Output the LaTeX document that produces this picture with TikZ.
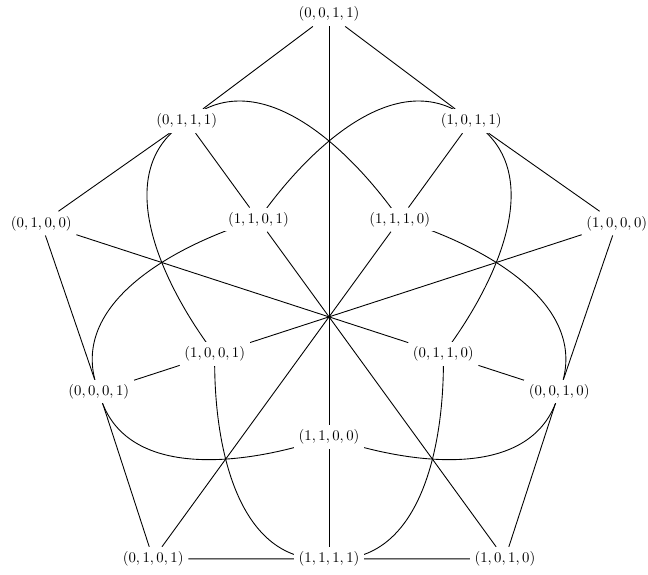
\documentclass[tikz,border=0pt]{standalone}
\usetikzlibrary{backgrounds}
\tikzset{
    vertex/.style={
        fill=white,
        inner sep=3pt,
        font=\normalsize
    },
    link/.style={
        draw=black,
        line width=0.6pt
    },
    curvelink/.style={
        draw=black,
        line width=0.6pt
    }
}
\begin{document}
\begin{tikzpicture}
    \useasboundingbox (-7.83,-6.14) rectangle (7.59,7.54);
    % outer ring
    \node[vertex] (n0011) at (90:7.2) {$(0,0,1,1)$};
    \node[vertex] (n0100) at (162:7.2) {$(0,1,0,0)$};
    \node[vertex] (n0101) at (234:7.12) {$(0,1,0,1)$};
    \node[vertex] (n1010) at (306:7.12) {$(1,0,1,0)$};
    \node[vertex] (n1000) at (18:7.2) {$(1,0,0,0)$};
    % middle ring
    \node[vertex] (n0111) at (126:5.76) {$(0,1,1,1)$};
    \node[vertex] (n0001) at (198:5.76) {$(0,0,0,1)$};
    \node[vertex] (n1111) at (270:5.76) {$(1,1,1,1)$};
    \node[vertex] (n0010) at (342:5.76) {$(0,0,1,0)$};
    \node[vertex] (n1011) at (54:5.76) {$(1,0,1,1)$};
    % inner ring
    \node[vertex] (n1101) at (126:2.86) {$(1,1,0,1)$};
    \node[vertex] (n1001) at (198:2.86) {$(1,0,0,1)$};
    \node[vertex] (n1100) at (270:2.86) {$(1,1,0,0)$};
    \node[vertex] (n0110) at (342:2.86) {$(0,1,1,0)$};
    \node[vertex] (n1110) at (54:2.86) {$(1,1,1,0)$};

    \begin{scope}[on background layer]
    % outer to middle
    \draw[link] (n0011) -- (n0111);
    \draw[link] (n0011) -- (n1011);
    \draw[link] (n0100) -- (n0111);
    \draw[link] (n0100) -- (n0001);
    \draw[link] (n0101) -- (n0001);
    \draw[link] (n0101) -- (n1111);
    \draw[link] (n1010) -- (n1111);
    \draw[link] (n1010) -- (n0010);
    \draw[link] (n1000) -- (n0010);
    \draw[link] (n1000) -- (n1011);

    % middle to inner
    \draw[link] (n0111) -- (n1101);
    \draw[link] (n0001) -- (n1001);
    \draw[link] (n1111) -- (n1100);
    \draw[link] (n0010) -- (n0110);
    \draw[link] (n1011) -- (n1110);

    % through the centre
    \draw[link] (n0011) -- (n1100);
    \draw[link] (n0100) -- (n0110);
    \draw[link] (n0101) -- (n1110);
    \draw[link] (n1010) -- (n1101);
    \draw[link] (n1000) -- (n1001);

    % curved links, centre to centre under the labels
    \draw[curvelink] (n0111.center) to[out=40, in=125] (n1110.center);
    \draw[curvelink] (n0001.center) to[out=112, in=197] (n1101.center);
    \draw[curvelink] (n1111.center) to[out=184, in=269] (n1001.center);
    \draw[curvelink] (n0010.center) to[out=256, in=341] (n1100.center);
    \draw[curvelink] (n1011.center) to[out=328, in=53] (n0110.center);
    \draw[curvelink] (n0111.center) to[out=212, in=127] (n1001.center);
    \draw[curvelink] (n0001.center) to[out=284, in=199] (n1100.center);
    \draw[curvelink] (n1111.center) to[out=356, in=271] (n0110.center);
    \draw[curvelink] (n0010.center) to[out=68, in=343] (n1110.center);
    \draw[curvelink] (n1011.center) to[out=140, in=55] (n1101.center);
    \end{scope}
\end{tikzpicture}
\end{document}
